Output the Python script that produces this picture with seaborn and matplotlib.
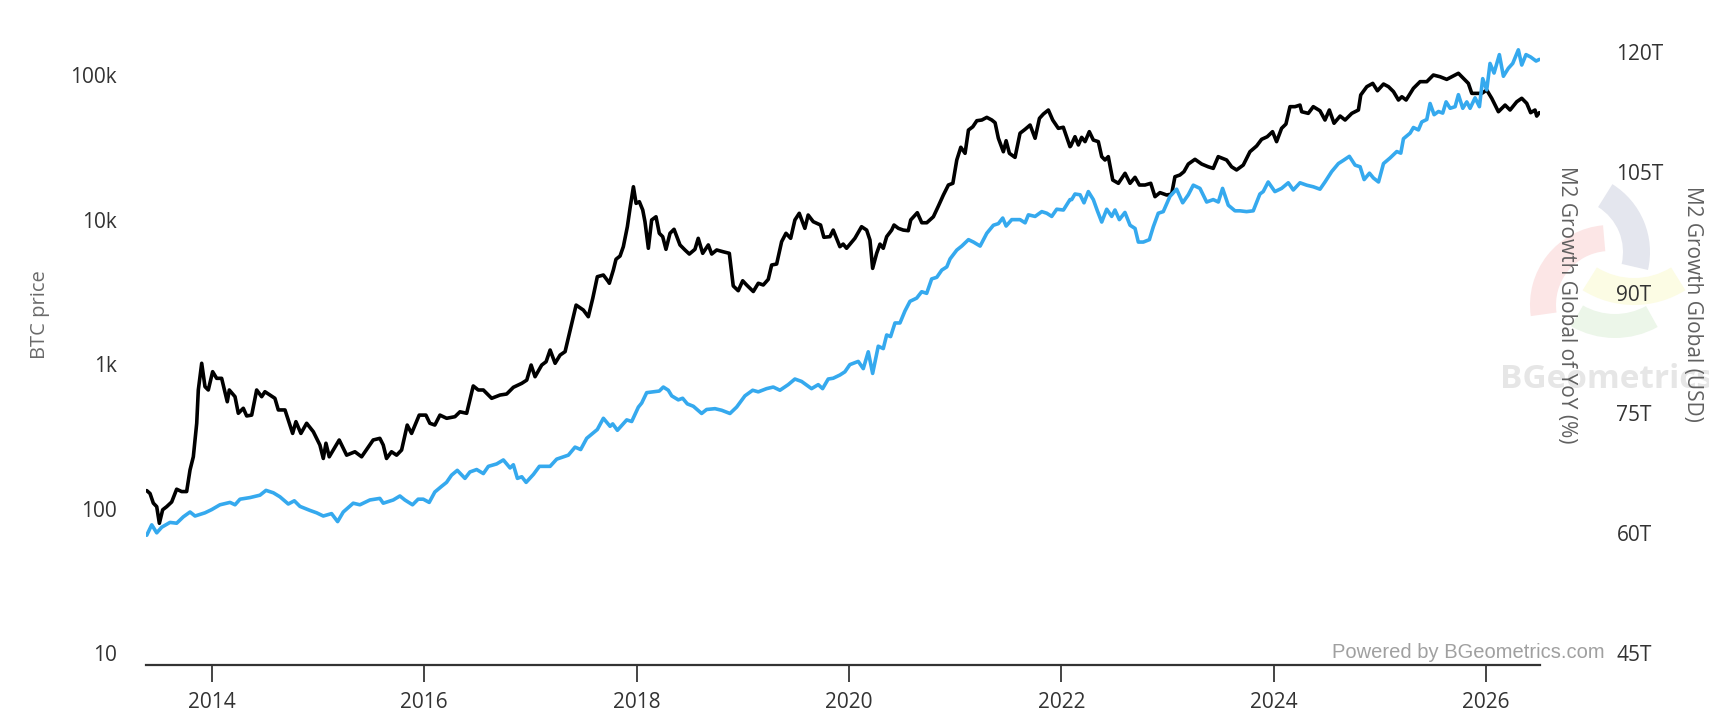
import numpy as np
import pandas as pd
import matplotlib
matplotlib.use("Agg")
import matplotlib.pyplot as plt
import matplotlib.dates as mdates
from matplotlib.ticker import FixedLocator, FixedFormatter, NullLocator
from matplotlib.patches import Wedge
import seaborn as sns

# ---------------- data (decimal years) ----------------
btc_years = [
    2013.385, 2013.416, 2013.447, 2013.479, 2013.504, 2013.535, 2013.573, 2013.620, 2013.667, 2013.714,
    2013.761, 2013.793, 2013.824, 2013.856, 2013.871, 2013.903, 2013.934, 2013.965, 2014.006, 2014.044,
    2014.091, 2014.144, 2014.163, 2014.217, 2014.248, 2014.295, 2014.327, 2014.374, 2014.421, 2014.468,
    2014.499, 2014.593, 2014.625, 2014.688, 2014.719, 2014.760, 2014.791, 2014.838, 2014.892, 2014.955,
    2015.017, 2015.049, 2015.074, 2015.105, 2015.199, 2015.269, 2015.347, 2015.410, 2015.519, 2015.582,
    2015.614, 2015.645, 2015.692, 2015.740, 2015.787, 2015.840, 2015.881, 2015.953, 2016.016, 2016.053,
    2016.100, 2016.148, 2016.211, 2016.289, 2016.336, 2016.399, 2016.461, 2016.508, 2016.556, 2016.634,
    2016.713, 2016.775, 2016.838, 2016.917, 2016.964, 2017.005, 2017.042, 2017.105, 2017.146, 2017.184,
    2017.231, 2017.278, 2017.325, 2017.366, 2017.429, 2017.497, 2017.544, 2017.586, 2017.629, 2017.686,
    2017.733, 2017.742, 2017.780, 2017.805, 2017.843, 2017.874, 2017.912, 2017.937, 2017.969, 2017.994,
    2018.025, 2018.057, 2018.078, 2018.110, 2018.141, 2018.182, 2018.213, 2018.245, 2018.276, 2018.314,
    2018.352, 2018.408, 2018.455, 2018.496, 2018.549, 2018.580, 2018.622, 2018.675, 2018.707, 2018.754,
    2018.816, 2018.873, 2018.910, 2018.957, 2018.999, 2019.036, 2019.099, 2019.146, 2019.193, 2019.240,
    2019.272, 2019.319, 2019.366, 2019.407, 2019.451, 2019.491, 2019.532, 2019.585, 2019.616, 2019.664,
    2019.733, 2019.764, 2019.821, 2019.852, 2019.915, 2019.946, 2019.978, 2020.056, 2020.119, 2020.167,
    2020.198, 2020.223, 2020.261, 2020.292, 2020.323, 2020.355, 2020.402, 2020.424, 2020.465, 2020.511,
    2020.558, 2020.581, 2020.643, 2020.685, 2020.732, 2020.794, 2020.841, 2020.888, 2020.935, 2020.977,
    2021.014, 2021.052, 2021.092, 2021.124, 2021.165, 2021.203, 2021.250, 2021.297, 2021.344, 2021.375,
    2021.406, 2021.453, 2021.479, 2021.510, 2021.563, 2021.610, 2021.658, 2021.705, 2021.752, 2021.793,
    2021.830, 2021.877, 2021.918, 2021.971, 2022.018, 2022.081, 2022.088, 2022.128, 2022.160, 2022.191,
    2022.223, 2022.263, 2022.301, 2022.348, 2022.380, 2022.411, 2022.442, 2022.484, 2022.537, 2022.600,
    2022.647, 2022.694, 2022.735, 2022.788, 2022.842, 2022.882, 2022.929, 2022.992, 2023.039, 2023.070,
    2023.117, 2023.155, 2023.196, 2023.259, 2023.322, 2023.384, 2023.431, 2023.478, 2023.557, 2023.604,
    2023.651, 2023.714, 2023.777, 2023.840, 2023.887, 2023.940, 2023.990, 2024.028, 2024.075, 2024.116,
    2024.154, 2024.201, 2024.248, 2024.264, 2024.326, 2024.373, 2024.436, 2024.483, 2024.524, 2024.568,
    2024.625, 2024.672, 2024.735, 2024.797, 2024.819, 2024.876, 2024.932, 2024.976, 2025.033, 2025.080,
    2025.127, 2025.174, 2025.206, 2025.246, 2025.315, 2025.378, 2025.441, 2025.503, 2025.566, 2025.629,
    2025.677, 2025.739, 2025.786, 2025.833, 2025.865, 2025.912, 2025.959, 2026.006, 2026.053, 2026.116,
    2026.179, 2026.226, 2026.289, 2026.336, 2026.383, 2026.420, 2026.461, 2026.477, 2026.501,
]
btc_price = [
    133, 127, 109, 103, 79, 98, 103, 111, 136, 131,
    131, 185, 228, 389, 661, 1012, 697, 661, 885, 796,
    796, 548, 661, 594, 456, 494, 437, 443, 661, 594,
    643, 579, 481, 481, 409, 331, 399, 331, 389, 340,
    275, 222, 283, 228, 298, 234, 247, 228, 298, 306,
    275, 222, 247, 234, 254, 378, 331, 443, 443, 389,
    378, 443, 421, 432, 467, 456, 705, 661, 661, 579,
    610, 620, 690, 735, 774, 984, 817, 984, 1037, 1250,
    1012, 1153, 1218, 1629, 2558, 2364, 2125, 2851, 4020, 4130,
    3715, 3622, 4477, 5309, 5588, 6486, 8918, 11940, 16860, 12940,
    13280, 11640, 9660, 6325, 9930, 10450, 8030, 7610, 6220, 8030,
    8560, 6670, 6155, 5770, 6220, 7410, 5836, 6670, 5770, 6155,
    5980, 5836, 3470, 3216, 3768, 3523, 3175, 3622, 3523, 3855,
    4844, 4920, 7030, 8030, 7410, 9930, 11040, 8690, 10740, 9660,
    9160, 7535, 7610, 8450, 6486, 6760, 6325, 7410, 8918, 8450,
    7210, 4590, 5836, 6760, 6325, 7610, 8450, 9160, 8690, 8450,
    8370, 9930, 11150, 9500, 9500, 10450, 12390, 14780, 17330, 17810,
    25820, 31620, 28720, 41600, 43850, 48290, 48830, 50930, 48830, 46770,
    36500, 29450, 35100, 28720, 26920, 39540, 42100, 45080, 36500, 50120,
    53700, 57260, 48830, 42760, 43490, 31920, 32290, 37410, 32810, 37040,
    34590, 40550, 35480, 34590, 27230, 25820, 27230, 18760, 17810, 20890,
    17810, 19590, 17330, 17330, 17810, 14390, 15350, 14780, 15000, 19770,
    20330, 21430, 24210, 26100, 24210, 23170, 22590, 27230, 25820, 23170,
    22030, 23820, 29450, 32290, 35890, 37410, 40550, 34590, 42760, 45800,
    60390, 60390, 61940, 55720, 54290, 60390, 56580, 48830, 57260, 46360,
    52000, 48830, 54290, 57260, 72780, 83040, 87520, 77830, 86620, 83040,
    76740, 67140, 70760, 67140, 80910, 89960, 89960, 100000, 97300, 93300,
    97300, 102800, 94800, 87520, 74650, 74650, 74650, 78690, 69020, 55720,
    61940, 57260, 65330, 69020, 63680, 54870, 57260, 52000, 54870,
]

m2_years = [
    2013.385, 2013.432, 2013.479, 2013.526, 2013.604, 2013.667, 2013.730, 2013.793, 2013.840, 2013.934,
    2013.997, 2014.075, 2014.170, 2014.217, 2014.264, 2014.358, 2014.452, 2014.509, 2014.578, 2014.640,
    2014.719, 2014.776, 2014.829, 2014.923, 2014.986, 2015.049, 2015.127, 2015.184, 2015.237, 2015.331,
    2015.394, 2015.488, 2015.582, 2015.614, 2015.708, 2015.771, 2015.818, 2015.890, 2015.943, 2015.991,
    2016.047, 2016.100, 2016.163, 2016.210, 2016.257, 2016.311, 2016.383, 2016.430, 2016.493, 2016.556,
    2016.603, 2016.681, 2016.744, 2016.807, 2016.838, 2016.876, 2016.917, 2016.958, 2017.027, 2017.083,
    2017.184, 2017.246, 2017.356, 2017.419, 2017.472, 2017.529, 2017.629, 2017.686, 2017.749, 2017.774,
    2017.818, 2017.906, 2017.953, 2018.016, 2018.047, 2018.094, 2018.157, 2018.213, 2018.251, 2018.298,
    2018.330, 2018.392, 2018.433, 2018.477, 2018.534, 2018.612, 2018.659, 2018.738, 2018.801, 2018.879,
    2018.942, 2019.020, 2019.093, 2019.146, 2019.224, 2019.287, 2019.350, 2019.428, 2019.491, 2019.554,
    2019.648, 2019.711, 2019.752, 2019.805, 2019.852, 2019.915, 2019.962, 2020.009, 2020.088, 2020.135,
    2020.182, 2020.223, 2020.276, 2020.323, 2020.355, 2020.392, 2020.433, 2020.480, 2020.527, 2020.574,
    2020.637, 2020.684, 2020.731, 2020.778, 2020.826, 2020.873, 2020.920, 2020.951, 2021.014, 2021.061,
    2021.124, 2021.171, 2021.234, 2021.297, 2021.359, 2021.406, 2021.447, 2021.479, 2021.532, 2021.610,
    2021.658, 2021.689, 2021.752, 2021.815, 2021.862, 2021.909, 2021.956, 2022.019, 2022.081, 2022.097,
    2022.128, 2022.176, 2022.213, 2022.254, 2022.301, 2022.339, 2022.380, 2022.427, 2022.474, 2022.505,
    2022.546, 2022.599, 2022.647, 2022.694, 2022.725, 2022.772, 2022.829, 2022.866, 2022.913, 2022.960,
    2023.023, 2023.086, 2023.143, 2023.196, 2023.243, 2023.306, 2023.369, 2023.431, 2023.479, 2023.519,
    2023.573, 2023.636, 2023.683, 2023.745, 2023.808, 2023.871, 2023.902, 2023.949, 2024.012, 2024.075,
    2024.138, 2024.185, 2024.248, 2024.311, 2024.373, 2024.436, 2024.483, 2024.546, 2024.609, 2024.656,
    2024.712, 2024.766, 2024.813, 2024.851, 2024.901, 2024.938, 2024.986, 2025.033, 2025.095, 2025.158,
    2025.196, 2025.221, 2025.284, 2025.315, 2025.362, 2025.394, 2025.441, 2025.472, 2025.510, 2025.551,
    2025.591, 2025.623, 2025.661, 2025.708, 2025.739, 2025.780, 2025.818, 2025.849, 2025.896, 2025.937,
    2025.968, 2026.006, 2026.037, 2026.075, 2026.125, 2026.163, 2026.210, 2026.251, 2026.304, 2026.336,
    2026.376, 2026.420, 2026.471, 2026.502,
]
m2_trillions = [
    59.7, 61.0, 60.0, 60.7, 61.3, 61.2, 62.0, 62.6, 62.1, 62.5,
    62.9, 63.5, 63.8, 63.5, 64.2, 64.4, 64.7, 65.3, 65.0, 64.5,
    63.6, 64.0, 63.3, 62.8, 62.5, 62.1, 62.4, 61.4, 62.6, 63.7,
    63.5, 64.1, 64.3, 63.7, 64.1, 64.6, 64.1, 63.5, 64.2, 64.2,
    63.8, 65.1, 65.8, 66.3, 67.2, 67.8, 66.8, 67.6, 67.9, 67.4,
    68.3, 68.6, 69.1, 68.1, 68.5, 66.8, 67.0, 66.3, 67.3, 68.3,
    68.3, 69.2, 69.7, 70.7, 70.4, 71.8, 72.9, 74.3, 73.3, 73.6,
    72.8, 74.1, 73.9, 75.7, 76.2, 77.5, 77.6, 77.7, 78.2, 77.8,
    77.1, 76.6, 76.8, 76.1, 75.8, 74.9, 75.4, 75.5, 75.3, 74.9,
    75.7, 77.1, 77.8, 77.6, 78.0, 78.2, 77.8, 78.5, 79.2, 78.9,
    78.0, 78.5, 78.0, 79.2, 79.3, 79.7, 80.1, 81.0, 81.4, 80.5,
    82.6, 79.9, 83.3, 83.0, 84.7, 84.5, 86.2, 86.2, 87.7, 88.9,
    89.3, 90.1, 89.9, 91.7, 91.9, 92.8, 93.2, 94.2, 95.3, 95.8,
    96.6, 96.3, 95.8, 97.4, 98.4, 98.6, 99.3, 98.3, 99.1, 99.1,
    98.7, 99.7, 99.5, 100.1, 99.9, 99.5, 100.4, 100.3, 101.6, 101.6,
    102.3, 102.2, 101.2, 102.6, 101.6, 100.2, 98.8, 100.4, 99.5, 100.3,
    99.1, 100.0, 98.4, 98.0, 96.3, 96.3, 96.6, 98.2, 99.9, 100.1,
    102.0, 102.9, 101.2, 102.2, 103.4, 103.0, 101.3, 101.6, 101.3, 103.0,
    100.9, 100.2, 100.2, 100.1, 100.2, 102.3, 102.6, 103.8, 102.6, 103.0,
    103.7, 102.8, 103.7, 103.4, 103.2, 102.9, 103.8, 105.1, 106.1, 106.5,
    107.0, 105.9, 105.7, 104.1, 104.9, 104.3, 103.8, 106.1, 106.8, 107.6,
    107.4, 109.2, 109.9, 110.6, 110.3, 111.3, 111.6, 113.6, 112.2, 112.6,
    112.4, 113.8, 113.0, 113.2, 114.7, 113.0, 113.8, 113.0, 114.3, 113.2,
    116.7, 115.3, 118.6, 117.4, 119.7, 117.0, 118.0, 118.6, 120.3, 118.4,
    119.7, 119.4, 118.9, 119.1,
]

year_ticks = [2014, 2016, 2018, 2020, 2022, 2024, 2026]
btc_tick_values = [10, 100, 1000, 10000, 100000]
btc_tick_labels = ["10", "100", "1k", "10k", "100k"]
m2_tick_values = [45, 60, 75, 90, 105, 120]
m2_tick_labels = ["45T", "60T", "75T", "90T", "105T", "120T"]


def to_date(y):
    yr = int(np.floor(y))
    start = pd.Timestamp(yr, 1, 1)
    end = pd.Timestamp(yr + 1, 1, 1)
    return start + (end - start) * (y - yr)


btc_df = pd.DataFrame({"date": [to_date(v) for v in btc_years], "price": btc_price})
m2_df = pd.DataFrame({"date": [to_date(v) for v in m2_years], "m2": m2_trillions})

# ---------------- figure ----------------
sns.set_theme(style="white")
plt.rcParams["font.family"] = ["Open Sans", "DejaVu Sans"]

W, H = 1709, 721
fig = plt.figure(figsize=(W / 100, H / 100), dpi=100)
fig.patch.set_facecolor("white")

# watermark layer (pixel coordinates, y downward -> angles mirrored)
ov = fig.add_axes([0, 0, 1, 1], zorder=-1)
ov.set_xlim(0, W)
ov.set_ylim(H, 0)
ov.axis("off")
ov.add_patch(Wedge((1570, 252), 80, -58, 13, width=27, facecolor="#e4e6ee", edgecolor="none"))
ov.add_patch(Wedge((1610, 305), 80, -188, -95, width=26, facecolor="#fce6e6", edgecolor="none"))
ov.add_patch(Wedge((1634, 208), 97, -302, -238, width=27, facecolor="#fcfce4", edgecolor="none"))
ov.add_patch(Wedge((1615, 250), 88, -299, -240, width=24, facecolor="#ecf6e9", edgecolor="none"))
ov.text(1500, 379, "BGeometrics", fontsize=24, fontweight="bold", color="#e6e6e6",
        ha="left", va="center", family=["Open Sans", "DejaVu Sans"])

left, right = 146 / W, 1540 / W
top_px, bot_px = 10, 665
ax = fig.add_axes([left, (H - bot_px) / H, right - left, (bot_px - top_px) / H])
ax.patch.set_alpha(0)

sns.lineplot(data=btc_df, x="date", y="price", ax=ax, color="#000000", linewidth=2.6,
             sort=False, legend=False, zorder=3)
ax.set_yscale("log")
ax.set_ylim(10 ** 0.917, 10 ** 5.450)
ax.set_xlim(to_date(2013.378), to_date(2026.508))

ax2 = ax.twinx()
sns.lineplot(data=m2_df, x="date", y="m2", ax=ax2, color="#35a9ee", linewidth=2.6,
             sort=False, legend=False, zorder=2)
ax2.set_ylim(43.50, 125.27)
ax2.set_xlim(to_date(2013.378), to_date(2026.508))

# x axis
ax.xaxis.set_major_locator(FixedLocator([mdates.date2num(pd.Timestamp(y, 1, 1)) for y in year_ticks]))
ax.xaxis.set_major_formatter(FixedFormatter([str(y) for y in year_ticks]))
ax.xaxis.set_minor_locator(NullLocator())
ax.tick_params(axis="x", which="major", length=12.5, width=1.4, color="#444444",
               direction="out", pad=7, labelsize=15, labelcolor="#333333", bottom=True)

# left y axis
ax.yaxis.set_major_locator(FixedLocator(btc_tick_values))
ax.yaxis.set_major_formatter(FixedFormatter(btc_tick_labels))
ax.yaxis.set_minor_locator(NullLocator())
ax.tick_params(axis="y", which="both", length=0, pad=21, labelsize=15, labelcolor="#333333")
ax.set_xlabel("")
ax.set_ylabel("")

# right y axis
ax2.yaxis.set_major_locator(FixedLocator(m2_tick_values))
ax2.yaxis.set_major_formatter(FixedFormatter(m2_tick_labels))
ax2.yaxis.set_minor_locator(NullLocator())
ax2.tick_params(axis="y", which="both", length=0, pad=55, labelsize=15, labelcolor="#333333")
ax2.set_ylabel("")
ax2.set_xlabel("")

for a in (ax, ax2):
    for s in ("top", "left", "right"):
        a.spines[s].set_visible(False)
    a.grid(False)
ax.spines["bottom"].set_color("#333333")
ax.spines["bottom"].set_linewidth(1.6)
ax2.spines["bottom"].set_visible(False)

# axis titles
fig.text(40 / W, (H - 315) / H, "BTC price", rotation=90, fontsize=14.5, color="#6a6a6a",
         ha="center", va="center")
fig.text(1567 / W, (H - 305) / H, "M2 Growth Global of YoY (%)", rotation=270, fontsize=15,
         color="#606060", ha="center", va="center")
fig.text(1693 / W, (H - 304) / H, "M2 Growth Global (USD)", rotation=270, fontsize=15,
         color="#606060", ha="center", va="center")

# credit
fig.text(1605 / W, (H - 653) / H, "Powered by BGeometrics.com", fontsize=14.5, color="#a0a0a0",
         ha="right", va="center", family=["Liberation Sans", "DejaVu Sans"])

fig.savefig("out.png", dpi=100, facecolor="white")
